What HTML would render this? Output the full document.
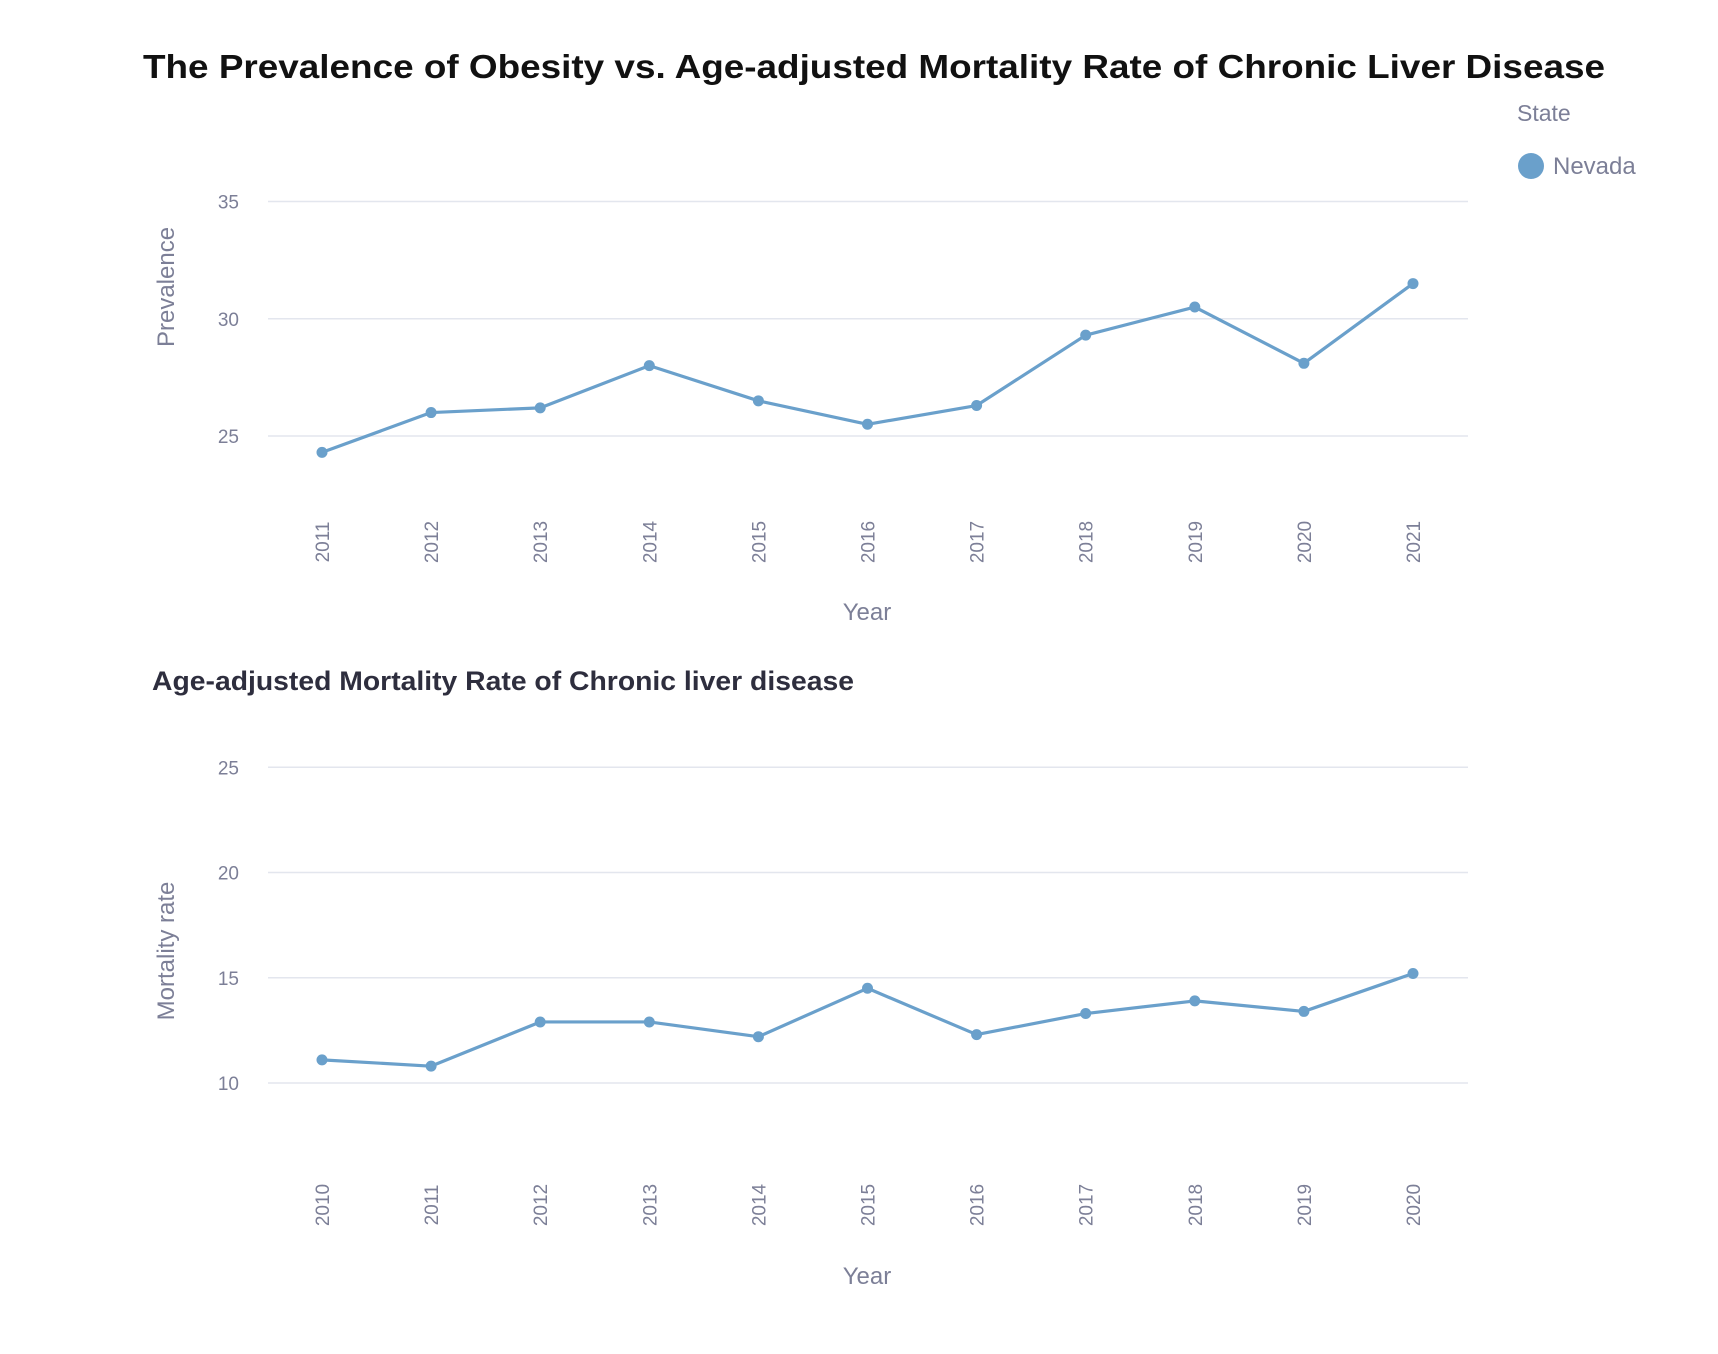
<!DOCTYPE html>
<html><head><meta charset="utf-8"><style>
html,body{margin:0;padding:0;background:#fff;}
svg{display:block;font-family:"Liberation Sans",sans-serif;}
</style></head><body>
<svg id="chart" width="1718" height="1354" viewBox="0 0 1718 1354">
<text x="874" y="78" text-anchor="middle" font-size="33" font-weight="bold" fill="#111" textLength="1462" lengthAdjust="spacingAndGlyphs">The Prevalence of Obesity vs. Age-adjusted Mortality Rate of Chronic Liver Disease</text>
<text x="1517" y="121" font-size="23" fill="#7c7f97">State</text>
<circle cx="1531" cy="166" r="13" fill="#6aa0cb"/>
<text x="1553" y="174" font-size="24" fill="#7c7f97">Nevada</text>
<text x="152" y="690" font-size="27" font-weight="bold" fill="#2e2e3e" textLength="702" lengthAdjust="spacingAndGlyphs">Age-adjusted Mortality Rate of Chronic liver disease</text>
<g id="g1"></g><g id="g2"></g>
</svg>
<script>
const years1 = [2011,2012,2013,2014,2015,2016,2017,2018,2019,2020,2021];
const prevalence = [24.3,26.0,26.2,28.0,26.5,25.5,26.3,29.3,30.5,28.1,31.5];
const ticks1 = [25,30,35];
const years2 = [2010,2011,2012,2013,2014,2015,2016,2017,2018,2019,2020];
const mortality = [11.1,10.8,12.9,12.9,12.2,14.5,12.3,13.3,13.9,13.4,15.2];
const ticks2 = [10,15,20,25];
const NS = "http://www.w3.org/2000/svg";
function mk(parent, tag, attrs, txt){
  const e = document.createElementNS(NS, tag);
  for (const k in attrs) e.setAttribute(k, attrs[k]);
  if (txt !== undefined) e.textContent = txt;
  parent.appendChild(e);
  return e;
}
function draw(gid, years, vals, ticks, cfg){
  const g = document.getElementById(gid);
  const x = i => 322 + i * (1413 - 322) / (years.length - 1);
  const y = v => cfg.y0 - (v - cfg.v0) * cfg.ppu;
  ticks.forEach(t => {
    const l = mk(g, 'line', {x1:268, x2:1468, y1:y(t), y2:y(t), stroke:'#e3e6ee', 'stroke-width':1.5});
    
    
    const tx = mk(g, 'text', {x:239, y:y(t)+7, 'text-anchor':'end', 'font-size':19, fill:'#7c7f97'}, String(t));
    
    
  });
  years.forEach((yr, i) => {
    const tx = mk(g, 'text', {x:0, y:0, 'text-anchor':'middle', 'font-size':19, fill:'#7c7f97', transform:`translate(${x(i)+7},${cfg.xl}) rotate(-90)`}, String(yr));
    
    
  });
  const pts = vals.map((v, i) => x(i) + ',' + y(v)).join(' ');
  const pl = mk(g, 'polyline', {points:pts, fill:'none', stroke:'#6aa0cb', 'stroke-width':3.2, 'stroke-linejoin':'round'});
  
  
  vals.forEach((v, i) => {
    const c = mk(g, 'circle', {cx:x(i), cy:y(v), r:5.5, fill:'#6aa0cb'});
    
    
  });
  const xt = mk(g, 'text', {x:867, y:cfg.xt, 'text-anchor':'middle', 'font-size':24, fill:'#7c7f97'}, 'Year');
  
  
  const yt = mk(g, 'text', {x:0, y:0, 'text-anchor':'middle', 'font-size':24, fill:'#7c7f97', transform:`translate(174,${cfg.yt}) rotate(-90)`}, cfg.ytitle);
  
  
}
draw('g1', years1, prevalence, ticks1, {y0:436, v0:25, ppu:23.45, xl:542, xt:620, yt:287, ytitle:'Prevalence', name:'prevalence'});
draw('g2', years2, mortality, ticks2, {y0:1083, v0:10, ppu:21.05, xl:1205, xt:1284, yt:951, ytitle:'Mortality rate', name:'mortality'});
</script>
</body></html>
